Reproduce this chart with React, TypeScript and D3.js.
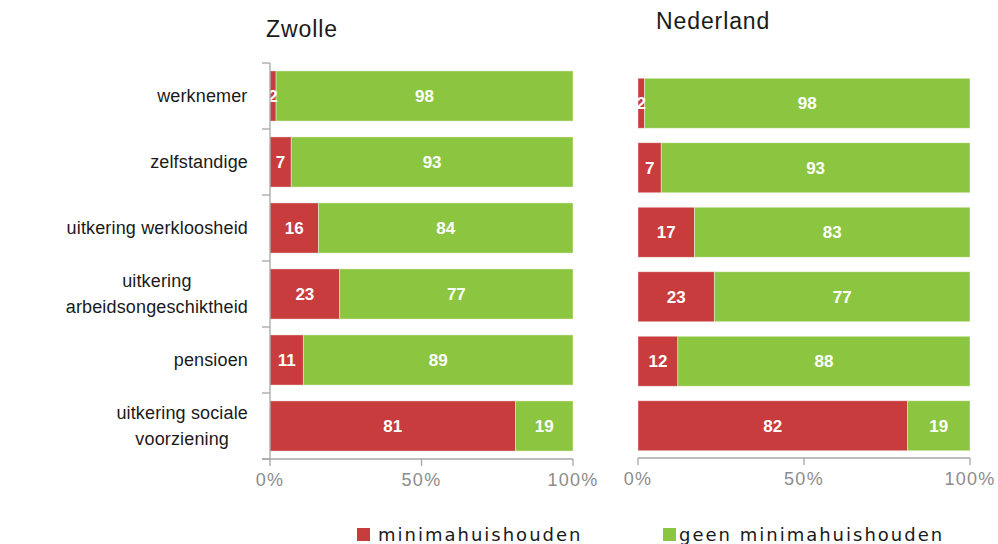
import * as d3 from 'd3';

const categories = [
  ['werknemer'],
  ['zelfstandige'],
  ['uitkering werkloosheid'],
  ['uitkering', 'arbeidsongeschiktheid'],
  ['pensioen'],
  ['uitkering sociale', 'voorziening'],
];
const zwolleMinima = [2, 7, 16, 23, 11, 81];
const zwolleGeen = [98, 93, 84, 77, 89, 19];
const nederlandMinima = [2, 7, 17, 23, 12, 82];
const nederlandGeen = [98, 93, 83, 77, 88, 19];
const xTicks = [0, 0.5, 1];
const seriesNames = ['minimahuishouden', 'geen minimahuishouden'];

const RED = '#c83c3d';
const GREEN = '#8cc640';
const AXIS = '#a6a6a6';
const W = 998;
const H = 544;

interface PanelProps {
  title: string;
  minima: number[];
  geen: number[];
  x0: number;
  x1: number;
  y0: number;
  y1: number;
  padding: number;
  titleX: number;
  titleY: number;
  leftAxis: boolean;
}

function Panel({ title, minima, geen, x0, x1, y0, y1, padding, titleX, titleY, leftAxis }: PanelProps) {
  const idx = categories.map((_, i) => String(i));
  const y = d3.scaleBand<string>().domain(idx).range([y0, y1]).paddingInner(padding).paddingOuter(padding / 2);
  const x = d3.scaleLinear().domain([0, 1]).range([x0, x1]);
  const fmt = d3.format('.0%');
  return (
    <g>
      <text x={titleX} y={titleY} fontFamily="Liberation Sans, Arial" fontSize={23} fill="#1a1a1a" letterSpacing={0.9}>
        {title}
      </text>
      {idx.map((k, i) => {
        const total = minima[i] + geen[i];
        const a = minima[i] / total;
        const by = y(k)!;
        const bh = y.bandwidth();
        return (
          <g key={k}>
            <rect x={x(0)} y={by} width={x(a) - x(0)} height={bh} fill={RED} stroke="#fff" strokeOpacity={0.5} strokeWidth={0.8} />
            <rect x={x(a)} y={by} width={x(1) - x(a)} height={bh} fill={GREEN} stroke="#fff" strokeOpacity={0.5} strokeWidth={0.8} />
            <text x={(x(0) + x(a)) / 2} y={by + bh / 2} dy="0.36em" textAnchor="middle" fill="#fff" fontWeight="bold" fontSize={17} fontFamily="Liberation Sans, Arial">
              {minima[i]}
            </text>
            <text x={(x(a) + x(1)) / 2} y={by + bh / 2} dy="0.36em" textAnchor="middle" fill="#fff" fontWeight="bold" fontSize={17} fontFamily="Liberation Sans, Arial">
              {geen[i]}
            </text>
          </g>
        );
      })}
      {leftAxis && (
        <g stroke={AXIS} strokeWidth={1.3}>
          <line x1={x0} x2={x0} y1={y0} y2={y1} />
          {d3.range(categories.length + 1).map((i) => {
            const ty = y0 + ((y1 - y0) * i) / categories.length;
            return <line key={i} x1={x0 - 8} x2={x0} y1={ty} y2={ty} />;
          })}
        </g>
      )}
      <g stroke={AXIS} strokeWidth={1.3}>
        <line x1={leftAxis ? x0 - 8 : x0} x2={x1} y1={y1} y2={y1} />
        {xTicks.map((t) => (
          <line key={t} x1={x(t)} x2={x(t)} y1={y1} y2={y1 + 7} />
        ))}
      </g>
      {xTicks.map((t) => (
        <text key={t} x={x(t)} y={y1 + 27} textAnchor="middle" fill="#8c8c8c" fontSize={18} fontFamily="Liberation Sans, Arial" letterSpacing={1.3}>
          {fmt(t)}
        </text>
      ))}
    </g>
  );
}

export default function App() {
  // category labels follow the Zwolle bands
  const yz = d3.scaleBand<string>().domain(categories.map((_, i) => String(i))).range([63, 459]);
  return (
    <svg width={W} height={H} style={{ position: 'absolute', left: 0, top: 0, background: '#fff' }}>
      <Panel title="Zwolle" minima={zwolleMinima} geen={zwolleGeen} x0={270} x1={573} y0={63} y1={459} padding={0.24} titleX={266} titleY={37} leftAxis />
      <Panel title="Nederland" minima={nederlandMinima} geen={nederlandGeen} x0={638} x1={970} y0={71} y1={458} padding={0.225} titleX={656} titleY={29} leftAxis={false} />
      {categories.map((lines, i) => {
        const cy = yz(String(i))! + yz.bandwidth() / 2;
        const lh = 26;
        return (
          <text key={i} textAnchor="middle" fontSize={18} fontFamily="Liberation Sans, Arial" fill="#1a1a1a" letterSpacing={0.15}>
            {lines.map((l, j) => (
              <tspan key={j} x={0} y={cy + (j - (lines.length - 1) / 2) * lh} dy="0.35em" ref={(el) => {
                if (el && el.parentNode) {
                  const parent = el.parentNode as SVGTextElement;
                  const w = parent.getBBox().width;
                  parent.querySelectorAll('tspan').forEach((s) => s.setAttribute('x', String(248 - w / 2)));
                }
              }}>
                {l}
              </tspan>
            ))}
          </text>
        );
      })}
      <g fontFamily="DejaVu Sans, Verdana" fontSize={18} fill="#1a1a1a" letterSpacing={2}>
        <rect x={357} y={528} width={13} height={13} fill={RED} />
        <text x={378} y={541}>{seriesNames[0]}</text>
        <rect x={663} y={528} width={13} height={13} fill={GREEN} />
        <text x={679} y={541}>{seriesNames[1]}</text>
      </g>
    </svg>
  );
}
